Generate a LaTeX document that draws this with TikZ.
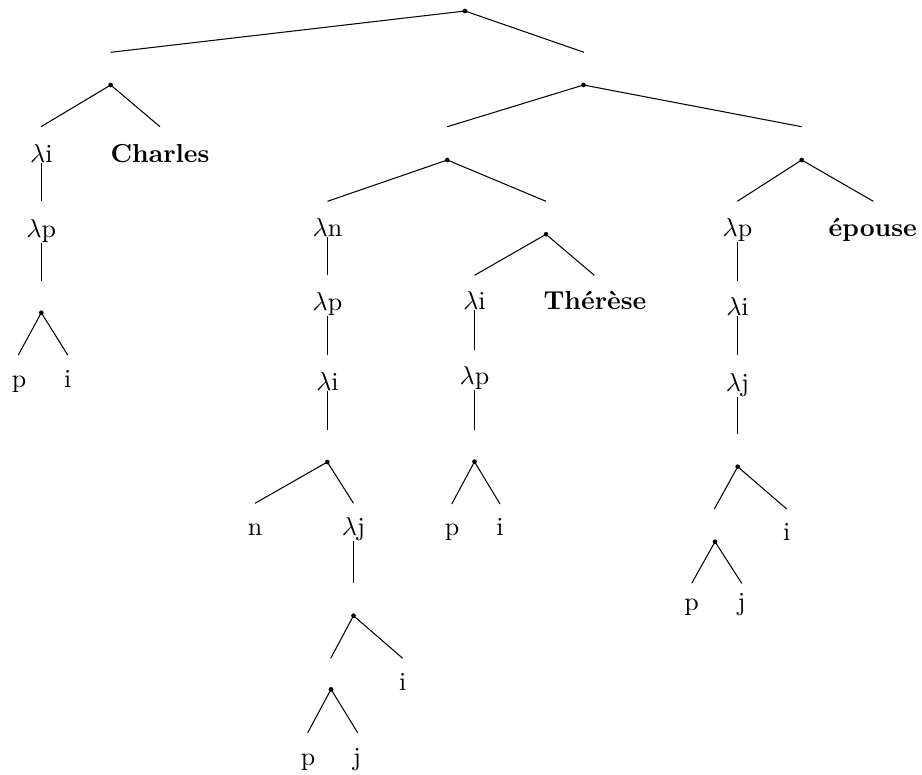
\documentclass[tikz,border=0pt]{standalone}
\begin{document}
\begin{tikzpicture}[x=0.3846pt,y=-0.3846pt,
  branchpt/.style={circle,fill=black,draw=none,inner sep=0pt,minimum size=1.8pt},
  lbl/.style={inner sep=0pt,anchor=base},
  branch/.style={line width=0.4pt}]
\useasboundingbox (0,0) rectangle (922,774);

% branching points
\node[branchpt] (r) at (465,11) {};
\node[branchpt] (a) at (110.7,85) {};
\node[branchpt] (b) at (583.5,85) {};
\node[branchpt] (c) at (447.3,160) {};
\node[branchpt] (d) at (801.7,160) {};
\node[branchpt] (e) at (546,234.3) {};
\node[branchpt] (f) at (41.3,312.7) {};
\node[branchpt] (g) at (327.3,462) {};
\node[branchpt] (h) at (353.5,615.7) {};
\node[branchpt] (k) at (331,689.3) {};
\node[branchpt] (m) at (474.5,461.7) {};
\node[branchpt] (q) at (737.7,466.7) {};
\node[branchpt] (s) at (715,541.7) {};

% free ends of the branches
\coordinate (r1) at (110.7,52.3);  \coordinate (r2) at (584,52.3);
\coordinate (a1) at (41,126.7);    \coordinate (a2) at (160,126.7);
\coordinate (b1) at (447.3,126.7); \coordinate (b2) at (801.7,126.7);
\coordinate (c1) at (327.5,201.3); \coordinate (c2) at (546,201.3);
\coordinate (d1) at (737.3,201.3); \coordinate (d2) at (873.3,201.3);
\coordinate (e1) at (474.5,275.3); \coordinate (e2) at (594.3,275.3);
\coordinate (f1) at (18.3,355);    \coordinate (f2) at (67.7,355);
\coordinate (g1) at (255,503.3);   \coordinate (g2) at (353.5,503.3);
\coordinate (h1) at (330.7,658.3); \coordinate (h2) at (402.7,658.3);
\coordinate (k1) at (307.7,732.7); \coordinate (k2) at (357.7,732.7);
\coordinate (m1) at (451.7,504);   \coordinate (m2) at (500,504);
\coordinate (q1) at (714.3,509);   \coordinate (q2) at (786.7,509);
\coordinate (s1) at (691.7,583.3); \coordinate (s2) at (741.7,583.3);

\foreach \n in {r,a,b,c,d,e,f,g,h,k,m,q,s}{
  \draw[branch] (\n1) -- (\n.center) -- (\n2);
}

% left subtree
\node[lbl] (L1) at (41.3,162) {$\lambda$i};
\node[lbl] (Ch) at (160,162) {\textbf{Charles}};
\node[lbl] (L2) at (41.3,237) {$\lambda$p};
\node[lbl] (L3) at (19,387) {p};
\node[lbl] (L4) at (67.7,387) {i};

% middle subtree
\node[lbl] (M1) at (327.5,236) {$\lambda$n};
\node[lbl] (M2) at (327.5,310) {$\lambda$p};
\node[lbl] (M3) at (327.5,390) {$\lambda$i};
\node[lbl] (M4) at (255,535) {n};
\node[lbl] (M5) at (353.5,535) {$\lambda$j};
\node[lbl] (M6) at (402.7,690) {i};
\node[lbl] (M7) at (308,765) {p};
\node[lbl] (M8) at (357,765) {j};

\node[lbl] (T1) at (474.5,309) {$\lambda$i};
\node[lbl] (Th) at (595,309) {\textbf{Thérèse}};
\node[lbl] (T2) at (474.5,384) {$\lambda$p};
\node[lbl] (T3) at (452,535) {p};
\node[lbl] (T4) at (500,535) {i};

% right subtree
\node[lbl] (R1) at (737.5,236) {$\lambda$p};
\node[lbl] (Ep) at (872.7,236) {\textbf{épouse}};
\node[lbl] (R2) at (737.5,315) {$\lambda$i};
\node[lbl] (R3) at (737.5,391) {$\lambda$j};
\node[lbl] (R4) at (786.7,540) {i};
\node[lbl] (R5) at (691.7,610) {p};
\node[lbl] (R6) at (741.7,610) {j};

% unary branches below lambda labels
\coordinate (L1e) at (41.3,200.7);
\coordinate (L2e) at (41.3,280.7);
\coordinate (M1e) at (327.5,275);
\coordinate (M2e) at (327.5,355);
\coordinate (M3e) at (327.5,430);
\coordinate (M5e) at (353.5,583.3);
\coordinate (T1e) at (474.5,350);
\coordinate (T2e) at (474.5,430);
\coordinate (R1e) at (737.5,280.7);
\coordinate (R2e) at (737.5,355);
\coordinate (R3e) at (737.5,434.3);

\foreach \n in {L1,L2,M1,M2,M3,M5,T1,T2,R1,R2,R3}{
  \draw[branch] (\n.south) -- (\n e);
}
\end{tikzpicture}
\end{document}
